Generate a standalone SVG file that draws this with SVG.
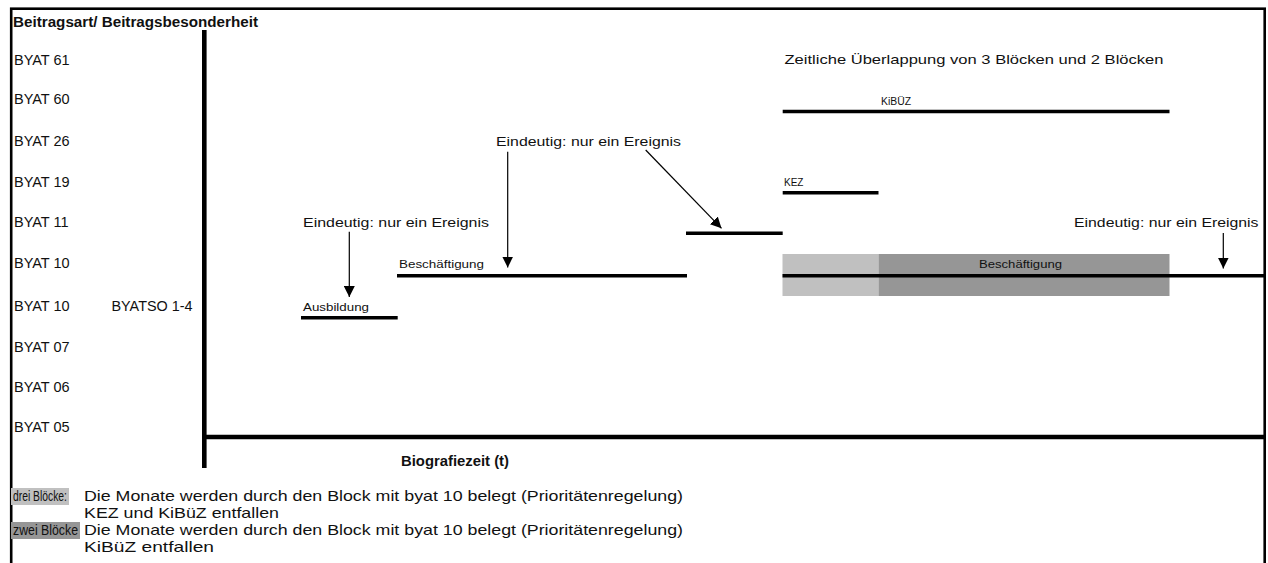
<svg xmlns="http://www.w3.org/2000/svg" width="1268" height="563" viewBox="0 0 1268 563">
<defs>
<style>
.t{font-family:"Liberation Sans",Arial,sans-serif;fill:#111}
.lab{font-size:14.5px}
.b{font-weight:bold}
.sm{font-size:10.5px}
.xs{font-size:10px}
.ann{font-size:13.5px}
.leg{font-size:14.5px}
.bar{stroke:#000;stroke-width:3.5;fill:none}
.arr{stroke:#000;stroke-width:1.2;fill:none}
</style>
<marker id="ah" viewBox="0 0 10 10" refX="10" refY="5" markerWidth="11" markerHeight="11" markerUnits="userSpaceOnUse" orient="auto">
<path d="M0,0 L10,5 L0,10 z" fill="#000"/>
</marker>
</defs>
<rect width="1268" height="563" fill="#fff"/>
<rect x="11.2" y="8.7" width="1253.5" height="580" fill="none" stroke="#000" stroke-width="2.6"/>

<g id="axes">
<line x1="204.3" y1="30" x2="204.3" y2="468" stroke="#000" stroke-width="4.6"/>
<line x1="202" y1="437" x2="1265" y2="437" stroke="#000" stroke-width="4.6"/>
<text class="t b" x="13" y="27" font-size="14px" textLength="245" lengthAdjust="spacingAndGlyphs">Beitragsart/ Beitragsbesonderheit</text>
<text class="t b" x="401" y="466" font-size="14px" textLength="108" lengthAdjust="spacingAndGlyphs">Biografiezeit (t)</text>
</g>

<g id="yLabels" class="t lab">
<text x="14" y="65">BYAT 61</text>
<text x="14" y="104">BYAT 60</text>
<text x="14" y="146">BYAT 26</text>
<text x="14" y="186.5">BYAT 19</text>
<text x="14" y="226.5">BYAT 11</text>
<text x="14" y="268.3">BYAT 10</text>
<text x="14" y="311">BYAT 10</text>
<text x="111.5" y="311" textLength="81" lengthAdjust="spacingAndGlyphs">BYATSO 1-4</text>
<text x="14" y="352">BYAT 07</text>
<text x="14" y="392">BYAT 06</text>
<text x="14" y="432">BYAT 05</text>
</g>

<g id="overlapBlocks">
<rect x="782.5" y="254" width="96" height="42" fill="#c0c0c0"/>
<rect x="878.5" y="254" width="291" height="42" fill="#969696"/>
<text class="t sm" x="979" y="268.3" textLength="83" lengthAdjust="spacingAndGlyphs">Beschäftigung</text>
</g>

<g id="ausbildung">
<line class="bar" x1="301" y1="317.7" x2="397.7" y2="317.7"/>
<text class="t sm" x="303" y="310.7" textLength="66" lengthAdjust="spacingAndGlyphs">Ausbildung</text>
</g>
<g id="beschaeftigung1">
<line class="bar" x1="397" y1="275.8" x2="687" y2="275.8"/>
<text class="t sm" x="399" y="268" textLength="85" lengthAdjust="spacingAndGlyphs">Beschäftigung</text>
</g>
<g id="byat11">
<line class="bar" x1="686" y1="233.3" x2="782.7" y2="233.3"/>
</g>
<g id="kez">
<line class="bar" x1="782.7" y1="192.8" x2="878.5" y2="192.8"/>
<text class="t xs" x="784" y="185.5" textLength="19.5" lengthAdjust="spacingAndGlyphs">KEZ</text>
</g>
<g id="kibuez">
<line class="bar" x1="782.7" y1="111.5" x2="1169.5" y2="111.5"/>
<text class="t xs" x="881" y="104.6" textLength="30" lengthAdjust="spacingAndGlyphs">KiBÜZ</text>
</g>
<g id="beschaeftigung2">
<line class="bar" x1="782.5" y1="275.8" x2="1265" y2="275.8"/>
</g>

<g id="annotations" class="t ann">
<text x="303" y="227" textLength="186" lengthAdjust="spacingAndGlyphs">Eindeutig: nur ein Ereignis</text>
<text x="496" y="145.5" textLength="185" lengthAdjust="spacingAndGlyphs">Eindeutig: nur ein Ereignis</text>
<text x="1074" y="227.3" textLength="184.5" lengthAdjust="spacingAndGlyphs">Eindeutig: nur ein Ereignis</text>
<text x="784.5" y="64" textLength="379" lengthAdjust="spacingAndGlyphs">Zeitliche Überlappung von 3 Blöcken und 2 Blöcken</text>
</g>

<g id="connectors">
<line class="arr" x1="349.3" y1="231.7" x2="349.3" y2="297" marker-end="url(#ah)"/>
<line class="arr" x1="507.7" y1="151.7" x2="507.7" y2="267.5" marker-end="url(#ah)"/>
<line class="arr" x1="645.7" y1="150" x2="721.5" y2="228.3" marker-end="url(#ah)"/>
<line class="arr" x1="1223.3" y1="233" x2="1223.3" y2="268.5" marker-end="url(#ah)"/>
</g>

<g id="legend">
<rect x="11" y="488" width="58" height="17" fill="#c0c0c0"/>
<rect x="11" y="522" width="69" height="17" fill="#969696"/>
<g class="t leg">
<text x="13" y="501" textLength="54" lengthAdjust="spacingAndGlyphs">drei Blöcke:</text>
<text x="84" y="501" textLength="599" lengthAdjust="spacingAndGlyphs">Die Monate werden durch den Block mit byat 10 belegt (Prioritätenregelung)</text>
<text x="84" y="518" textLength="195" lengthAdjust="spacingAndGlyphs">KEZ und KiBüZ entfallen</text>
<text x="13" y="535" textLength="65" lengthAdjust="spacingAndGlyphs">zwei Blöcke</text>
<text x="84" y="535" textLength="599" lengthAdjust="spacingAndGlyphs">Die Monate werden durch den Block mit byat 10 belegt (Prioritätenregelung)</text>
<text x="84" y="552" textLength="130" lengthAdjust="spacingAndGlyphs">KiBüZ entfallen</text>
</g>
</g>
</svg>
